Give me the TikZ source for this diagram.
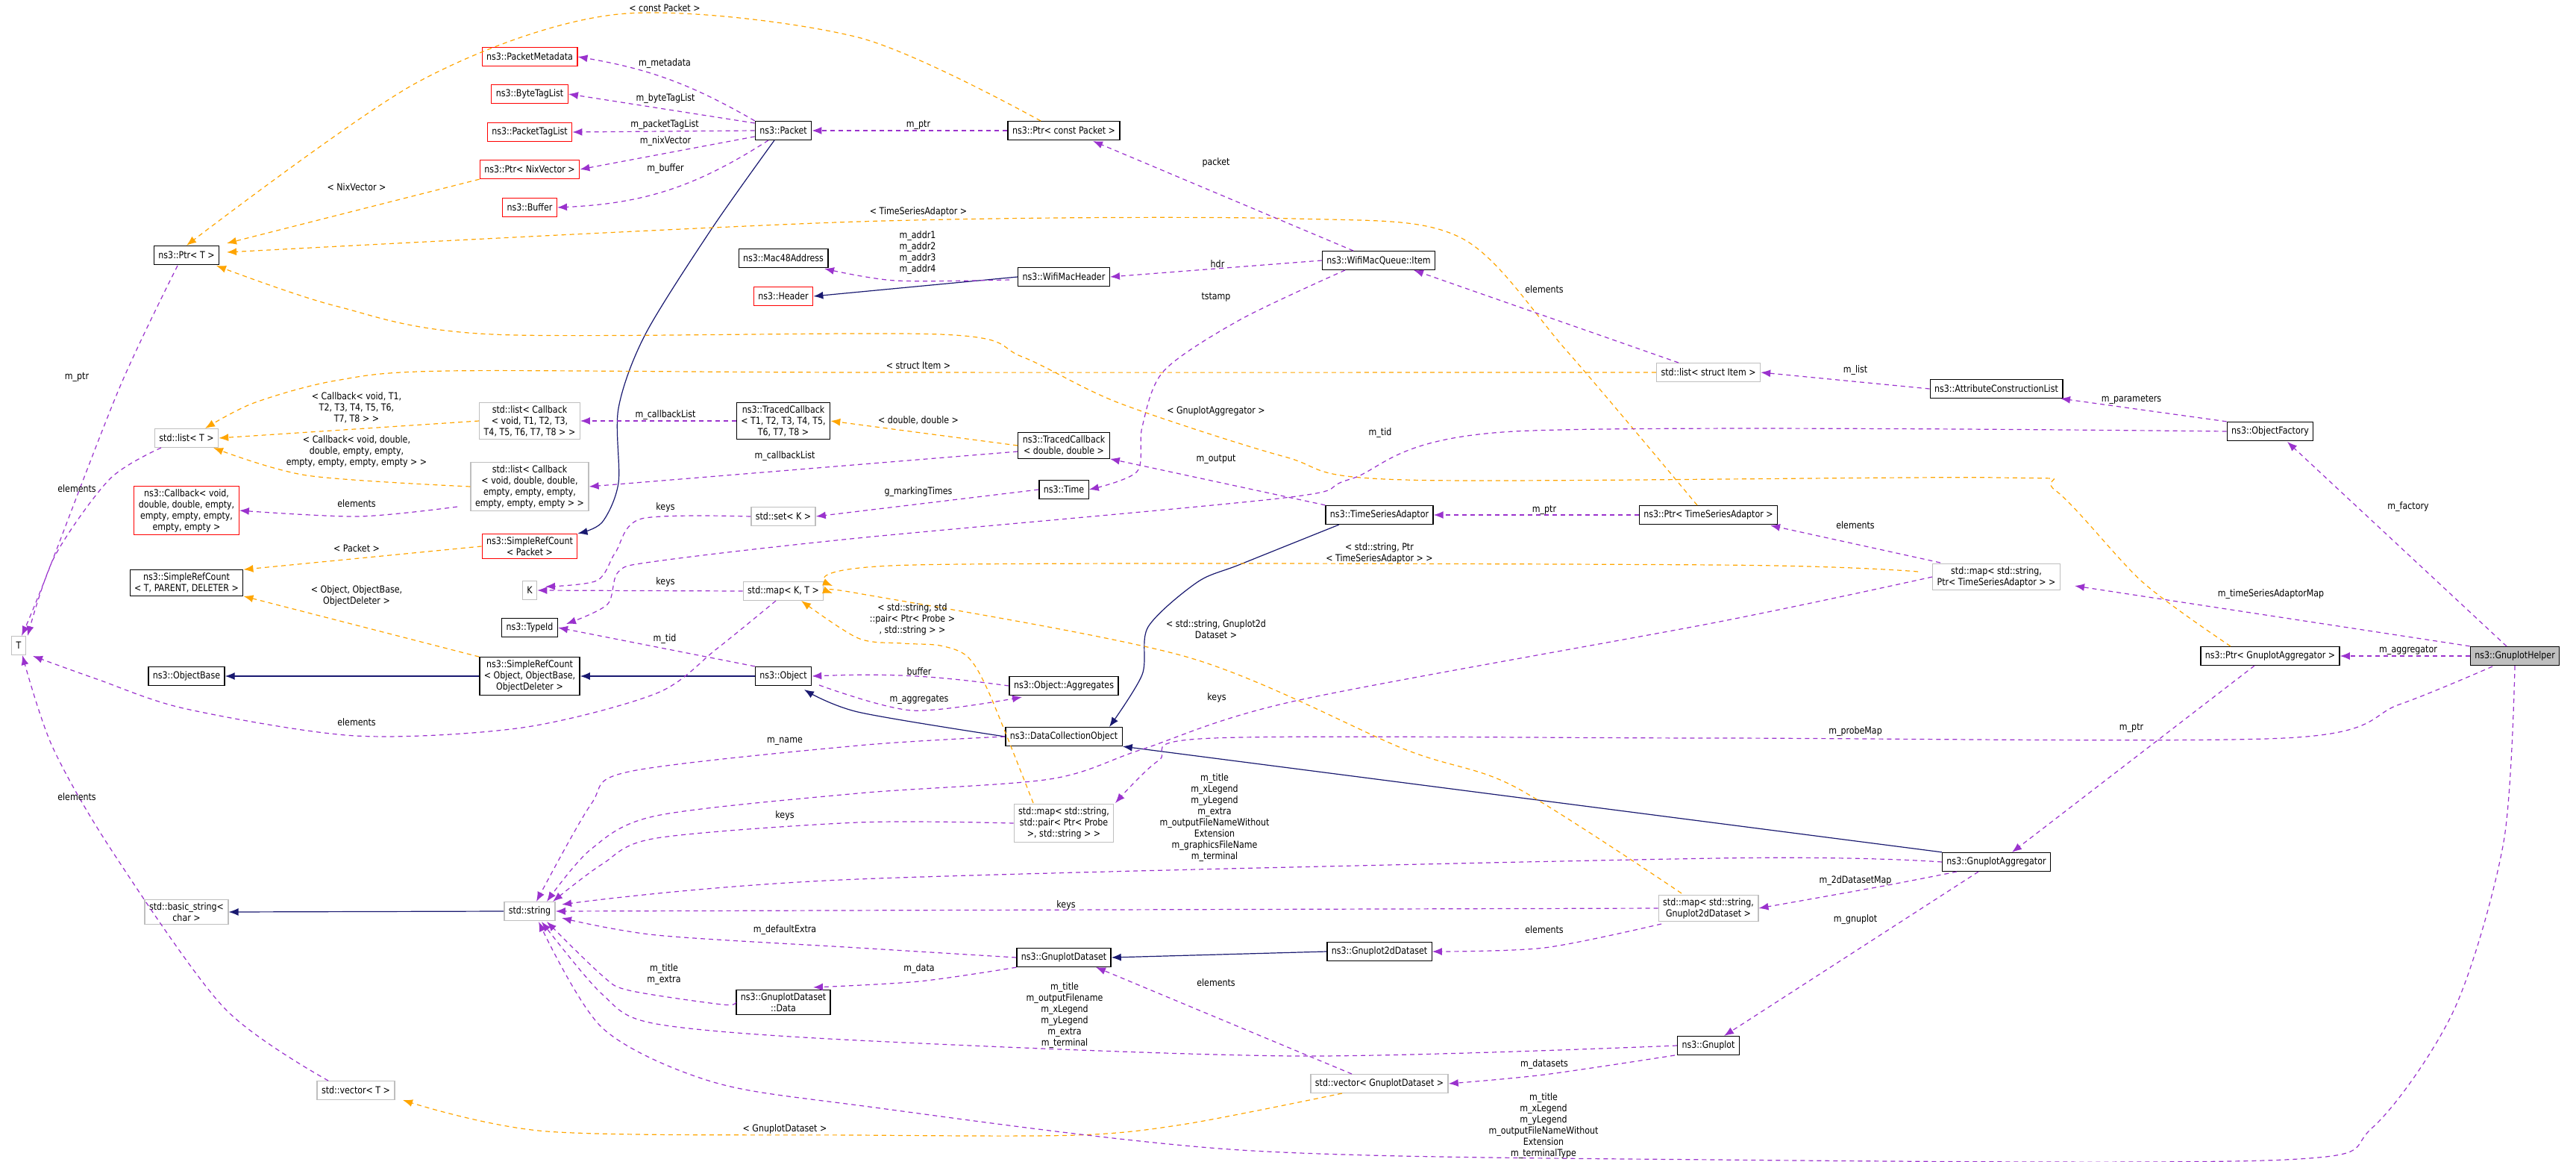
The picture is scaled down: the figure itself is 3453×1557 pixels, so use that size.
\documentclass[tikz,border=0pt]{standalone}
\usepackage{fontspec}
\setmainfont[FakeStretch=0.85]{DejaVu Sans}
\usetikzlibrary{arrows.meta}

\definecolor{usecol}{HTML}{9A32CD}
\definecolor{tmplcol}{HTML}{FFA500}
\definecolor{inhcol}{HTML}{191970}

\tikzset{
  cls/.style={draw=black,line width=1.3pt,fill=white,align=center,inner xsep=6pt,inner ysep=4pt,minimum height=25pt,font=\fontsize{13}{15}\selectfont},
  clsred/.style={cls,draw=red},
  clsgray/.style={cls,draw=gray!50},
  helper/.style={cls,fill=gray!50},
  lbl/.style={align=center,font=\fontsize{13}{15}\selectfont,inner sep=0pt},
  arr/.style={-{Latex[length=13pt,width=10pt]},line width=1.2pt},
  use/.style={arr,usecol,dash pattern=on 6pt off 5pt},
  tmpl/.style={arr,tmplcol,dash pattern=on 6pt off 5pt},
  inh/.style={arr,inhcol},
}

\begin{document}
\begin{tikzpicture}[x=1pt,y=-1pt]
\useasboundingbox (0,0) rectangle (3453,1557);

% classes
\node[clsred] (meta) at (710,76) {ns3::PacketMetadata};
\node[clsred] (bytetag) at (710,126) {ns3::ByteTagList};
\node[clsred] (ptag) at (710,177) {ns3::PacketTagList};
\node[clsred] (nixptr) at (710,227) {ns3::Ptr< NixVector >};
\node[clsred] (buffer) at (710,278) {ns3::Buffer};
\node[cls] (packet) at (1050,175) {ns3::Packet};
\node[cls] (ptrT) at (250,342) {ns3::Ptr< T >};
\node[cls] (mac) at (1050,346) {ns3::Mac48Address};
\node[clsred] (header) at (1050,397) {ns3::Header};
\node[clsgray] (cbT1) at (710,564) {std::list< Callback\\< void, T1, T2, T3,\\T4, T5, T6, T7, T8 > >};
\node[cls] (tcbT1) at (1050,564) {ns3::TracedCallback\\< T1, T2, T3, T4, T5,\\T6, T7, T8 >};
\node[clsgray] (listT) at (250,587) {std::list< T >};
\node[clsgray] (cbdbl) at (710,652) {std::list< Callback\\< void, double, double,\\empty, empty, empty,\\empty, empty, empty > >};
\node[clsred] (callback) at (250,684) {ns3::Callback< void,\\double, double, empty,\\empty, empty, empty,\\empty, empty >};
\node[clsgray] (setK) at (1050,692) {std::set< K >};
\node[clsred] (srcPacket) at (710,732) {ns3::SimpleRefCount\\< Packet >};
\node[cls] (srcTPD) at (250,781) {ns3::SimpleRefCount\\< T, PARENT, DELETER >};
\node[clsgray] (K) at (710,791) {K};
\node[clsgray] (mapKT) at (1050,792) {std::map< K, T >};
\node[cls] (typeid) at (710,841) {ns3::TypeId};
\node[clsgray] (T) at (25,865) {T};
\node[cls] (objbase) at (250,906) {ns3::ObjectBase};
\node[cls] (srcObj) at (710,906) {ns3::SimpleRefCount\\< Object, ObjectBase,\\ObjectDeleter >};
\node[cls] (object) at (1050,906) {ns3::Object};
\node[clsgray] (bstring) at (250,1222) {std::basic\_string<\\char >};
\node[clsgray] (string) at (710,1221) {std::string};
\node[cls] (gdData) at (1050,1343) {ns3::GnuplotDataset\\::Data};
\node[clsgray] (vectorT) at (477,1461) {std::vector< T >};
\node[cls] (ptrPkt) at (1426,175) {ns3::Ptr< const Packet >};
\node[cls] (wifihdr) at (1426,371) {ns3::WifiMacHeader};
\node[cls] (item) at (1848,349) {ns3::WifiMacQueue::Item};
\node[clsgray] (listItem) at (2290,499) {std::list< struct Item >};
\node[cls] (tcbDbl) at (1426,597) {ns3::TracedCallback\\< double, double >};
\node[cls] (time) at (1426,656) {ns3::Time};
\node[cls] (tsa) at (1849,690) {ns3::TimeSeriesAdaptor};
\node[cls] (ptrTSA) at (2290,690) {ns3::Ptr< TimeSeriesAdaptor >};
\node[cls] (acl) at (2676,521) {ns3::AttributeConstructionList};
\node[cls] (factory) at (3043,578) {ns3::ObjectFactory};
\node[clsgray] (mapTSA) at (2676,773) {std::map< std::string,\\Ptr< TimeSeriesAdaptor > >};
\node[cls] (ptrGA) at (3043,879) {ns3::Ptr< GnuplotAggregator >};
\node[helper] (helper) at (3371,879) {ns3::GnuplotHelper};
\node[cls] (aggr) at (2676,1155) {ns3::GnuplotAggregator};
\node[cls] (gnuplot) at (2290,1401) {ns3::Gnuplot};
\node[cls] (aggregates) at (1426,919) {ns3::Object::Aggregates};
\node[cls] (dco) at (1426,987) {ns3::DataCollectionObject};
\node[clsgray] (mapProbe) at (1426,1103) {std::map< std::string,\\std::pair< Ptr< Probe\\>, std::string > >};
\node[clsgray] (map2d) at (2290,1217) {std::map< std::string,\\Gnuplot2dDataset >};
\node[cls] (g2d) at (1849,1275) {ns3::Gnuplot2dDataset};
\node[cls] (gds) at (1426,1283) {ns3::GnuplotDataset};
\node[clsgray] (vecGds) at (1849,1452) {std::vector< GnuplotDataset >};

% inheritance
\draw[inh] plot[smooth] coordinates {(1038,188) (953,308) (865,448) (829,547) (829,647) (807,700) (srcPacket.north east)};
\draw[inh] (wifihdr.west) -- (header.east);
\draw[inh] (srcObj.west) -- (objbase.east);
\draw[inh] (object.west) -- (srcObj.east);
\draw[inh] plot[smooth] coordinates {(dco.west) (1150,954) (1078,924)};
\draw[inh] plot[smooth] coordinates {(1795,703) (1663,756) (1605,780) (1539,840) (1531,904) (1487,974)};
\draw[inh] (aggr.north west) -- (dco.south east);
\draw[inh] (string.west) -- (bstring.east);
\draw[inh] (g2d.west) -- (gds.east);

% templates
\draw[tmpl] plot[smooth] coordinates {(1395,162) (1150,50) (829,19) (560,110) (ptrT.north)};
\draw[tmpl] (nixptr.south west) -- (304,326);
\draw[tmpl] plot[smooth] coordinates {(2275,677) (2100,470) (1957,318) (1737,293) (1150,297) (304,338)};
\draw[tmpl] plot[smooth] coordinates {(2990,866) (2872,780) (2755,657) (2681,640) (1883,643) (1722,612) (1500,540) (1370,478) (1260,448) (660,448) (450,410) (290,356)};
\draw[tmpl] plot[smooth] coordinates {(listItem.west) (1150,499) (600,497) (450,510) (340,540) (275,574)};
\draw[tmpl] (cbT1.west) -- (listT.east);
\draw[tmpl] plot[smooth] coordinates {(cbdbl.west) (411,637) (286,600)};
\draw[tmpl] (tcbDbl.west) -- (tcbT1.east);
\draw[tmpl] (srcPacket.west) -- (srcTPD.north east);
\draw[tmpl] (srcObj.north west) -- (srcTPD.south east);
\draw[tmpl] plot[smooth] coordinates {(2571,766) (2300,757) (1223,757) (1116,785)};
\draw[tmpl] plot[smooth] coordinates {(1385,1076) (1326,929) (1297,880) (1260,865) (1209,862) (1150,855) (1074,805)};
\draw[tmpl] plot[smooth] coordinates {(2254,1197) (2030,1054) (1883,1004) (1590,880) (1150,795) (1116,795)};
\draw[tmpl] plot[smooth] coordinates {(1799,1465) (1590,1506) (1443,1521) (1150,1521) (733,1516) (540,1474)};

% usage
\draw[use] (packet.north west) to[bend right=10] (meta.east);
\draw[use] (packet.west) ++(0,-10) -- (bytetag.east);
\draw[use] (packet.west) -- (ptag.east);
\draw[use] (packet.west) ++(0,8) -- (nixptr.east);
\draw[use] (1030,188) to[bend left=15] (buffer.east);
\draw[use] (ptrPkt.west) -- (packet.east);
\draw[use] (1814,336) -- (1465,189);
\draw[use] (item.west) -- (wifihdr.east);
\draw[use] plot[smooth] coordinates {(1353,375) (1200,376) (1105,360)};
\draw[use] plot[smooth] coordinates {(1803,362) (1663,428) (1560,497) (1531,572) (1524,632) (time.east)};
\draw[use] (2250,486) -- (1895,362);
\draw[use] (acl.west) -- (listItem.east);
\draw[use] (factory.north west) -- (2762,534);
\draw[use] (3360,866) -- (3066,592);
\draw[use] plot[smooth] coordinates {(factory.west) (2030,578) (1810,642) (1722,667) (1150,721) (880,752) (829,766) (814,810) (759,836)};
\draw[use] (time.west) -- (setK.east);
\draw[use] (tcbDbl.west) ++(0,8) -- (cbdbl.east);
\draw[use] (tcbT1.west) -- (cbT1.east);
\draw[use] plot[smooth] coordinates {(613,679) (480,692) (callback.east)};
\draw[use] plot[smooth] coordinates {(216,600) (147,642) (73,746) (37,852)};
\draw[use] plot[smooth] coordinates {(238,356) (160,520) (59,780) (29,852)};
\draw[use] plot[smooth] coordinates {(1040,805) (960,870) (880,929) (700,975) (477,986) (250,950) (130,910) (44,879)};
\draw[use] plot[smooth] coordinates {(440,1448) (300,1350) (150,1140) (70,1000) (30,878)};
\draw[use] (mapKT.west) -- (K.east);
\draw[use] plot[smooth] coordinates {(setK.west) (860,695) (825,740) (800,778) (731,786)};
\draw[use] (object.north west) -- (typeid.east);
\draw[use] (aggregates.west) to[bend right=5] (object.east);
\draw[use] plot[smooth] coordinates {(1098,918) (1223,952) (1370,934)};
\draw[use] (tsa.north west) -- (tcbDbl.south east);
\draw[use] (ptrTSA.west) -- (tsa.east);
\draw[use] (2601,754) -- (2373,704);
\draw[use] (helper.north west) -- (2781,785);
\draw[use] (helper.west) -- (ptrGA.east);
\draw[use] (3022,892) -- (2697,1142);
\draw[use] plot[smooth] coordinates {(3341,893) (3216,944) (3062,989) (2300,989) (1627,989) (1553,1019) (1495,1076)};
\draw[use] plot[smooth] coordinates {(mapTSA.west) (2300,834) (1737,939) (1531,1004) (1407,1044) (1150,1063) (880,1093) (792,1138) (733,1208)};
\draw[use] plot[smooth] coordinates {(dco.west) (1150,999) (843,1034) (792,1078) (719,1208)};
\draw[use] plot[smooth] coordinates {(mapProbe.west) (1150,1102) (880,1123) (807,1158) (741,1208)};
\draw[use] plot[smooth] coordinates {(aggr.west) (2300,1150) (1150,1178) (753,1212)};
\draw[use] (map2d.west) -- (string.east);
\draw[use] plot[smooth] coordinates {(gds.west) (1150,1270) (880,1253) (753,1230)};
\draw[use] plot[smooth] coordinates {(gdData.west) (968,1346) (843,1327) (807,1307) (733,1235)};
\draw[use] plot[smooth] coordinates {(gnuplot.west) (1737,1415) (1150,1394) (880,1372) (807,1332) (726,1235)};
\draw[use] plot[smooth] coordinates {(helper.south) (3356,1128) (3290,1352) (3180,1511) (3062,1554) (2300,1554) (1663,1541) (1150,1481) (953,1449) (807,1377) (722,1235)};
\draw[use] plot[smooth] coordinates {(gds.south west) (1232,1315) (1090,1323)};
\draw[use] (1812,1439) -- (1469,1296);
\draw[use] plot[smooth] coordinates {(2245,1414) (2070,1440) (vecGds.east)};
\draw[use] plot[smooth] coordinates {(2227,1238) (2070,1270) (g2d.east)};
\draw[use] plot[smooth] coordinates {(2623,1168) (2520,1188) (map2d.east)};
\draw[use] (2652,1168) -- (2311,1388);

% labels
\node[lbl] (l1) at (891,85) {m\_metadata};
\node[lbl] (l2) at (892,132) {m\_byteTagList};
\node[lbl] (l3) at (891,167) {m\_packetTagList};
\node[lbl] (l4) at (892,189) {m\_nixVector};
\node[lbl] (l5) at (892,226) {m\_buffer};
\node[lbl] (l6) at (1231,167) {m\_ptr};
\node[lbl] (l7) at (1630,218) {packet};
\node[lbl] (l8) at (1632,354) {hdr};
\node[lbl] (l9) at (1230,339) {m\_addr1\\m\_addr2\\m\_addr3\\m\_addr4};
\node[lbl] (l10) at (1630,398) {tstamp};
\node[lbl] (l11) at (2070,388) {elements};
\node[lbl] (l12) at (2487,496) {m\_list};
\node[lbl] (l13) at (2857,535) {m\_parameters};
\node[lbl] (l14) at (3228,679) {m\_factory};
\node[lbl] (l15) at (1850,580) {m\_tid};
\node[lbl] (l16) at (1231,659) {g\_markingTimes};
\node[lbl] (l17) at (1052,611) {m\_callbackList};
\node[lbl] (l18) at (892,556) {m\_callbackList};
\node[lbl] (l19) at (478,675) {elements};
\node[lbl] (l20) at (103,655) {elements};
\node[lbl] (l21) at (103,505) {m\_ptr};
\node[lbl] (l22) at (478,968) {elements};
\node[lbl] (l23) at (103,1068) {elements};
\node[lbl] (l24) at (892,680) {keys};
\node[lbl] (l25) at (892,780) {keys};
\node[lbl] (l26) at (891,856) {m\_tid};
\node[lbl] (l27) at (1232,900) {buffer};
\node[lbl] (l28) at (1232,937) {m\_aggregates};
\node[lbl] (l29) at (1630,615) {m\_output};
\node[lbl] (l30) at (2070,683) {m\_ptr};
\node[lbl] (l31) at (2487,704) {elements};
\node[lbl] (l32) at (3044,796) {m\_timeSeriesAdaptorMap};
\node[lbl] (l33) at (3228,871) {m\_aggregator};
\node[lbl] (l34) at (2857,975) {m\_ptr};
\node[lbl] (l35) at (2487,980) {m\_probeMap};
\node[lbl] (l36) at (1631,935) {keys};
\node[lbl] (l37) at (1052,993) {m\_name};
\node[lbl] (l38) at (1052,1093) {keys};
\node[lbl] (l39) at (1628,1096) {m\_title\\m\_xLegend\\m\_yLegend\\m\_extra\\m\_outputFileNameWithout\\Extension\\m\_graphicsFileName\\m\_terminal};
\node[lbl] (l40) at (1429,1213) {keys};
\node[lbl] (l41) at (1052,1246) {m\_defaultExtra};
\node[lbl] (l42) at (890,1306) {m\_title\\m\_extra};
\node[lbl] (l43) at (1427,1361) {m\_title\\m\_outputFilename\\m\_xLegend\\m\_yLegend\\m\_extra\\m\_terminal};
\node[lbl] (l44) at (2069,1509) {m\_title\\m\_xLegend\\m\_yLegend\\m\_outputFileNameWithout\\Extension\\m\_terminalType};
\node[lbl] (l45) at (1232,1298) {m\_data};
\node[lbl] (l46) at (1630,1317) {elements};
\node[lbl] (l47) at (2070,1426) {m\_datasets};
\node[lbl] (l48) at (2070,1246) {elements};
\node[lbl] (l49) at (2487,1180) {m\_2dDatasetMap};
\node[lbl] (l50) at (2487,1232) {m\_gnuplot};
\node[lbl] (t1) at (891,11) {< const Packet >};
\node[lbl] (t2) at (478,251) {< NixVector >};
\node[lbl] (t3) at (1231,284) {< TimeSeriesAdaptor >};
\node[lbl] (t4) at (1630,551) {< GnuplotAggregator >};
\node[lbl] (t5) at (1231,490) {< struct Item >};
\node[lbl] (t6) at (478,546) {< Callback< void, T1,\\T2, T3, T4, T5, T6,\\T7, T8 > >};
\node[lbl] (t7) at (478,605) {< Callback< void, double,\\double, empty, empty,\\empty, empty, empty, empty > >};
\node[lbl] (t8) at (1231,563) {< double, double >};
\node[lbl] (t9) at (478,735) {< Packet >};
\node[lbl] (t10) at (478,798) {< Object, ObjectBase,\\ObjectDeleter >};
\node[lbl] (t11) at (1849,741) {< std::string, Ptr\\< TimeSeriesAdaptor > >};
\node[lbl] (t12) at (1223,830) {< std::string, std\\::pair< Ptr< Probe >\\, std::string > >};
\node[lbl] (t13) at (1630,843) {< std::string, Gnuplot2d\\Dataset >};
\node[lbl] (t14) at (1052,1513) {< GnuplotDataset >};
\end{tikzpicture}
\end{document}
